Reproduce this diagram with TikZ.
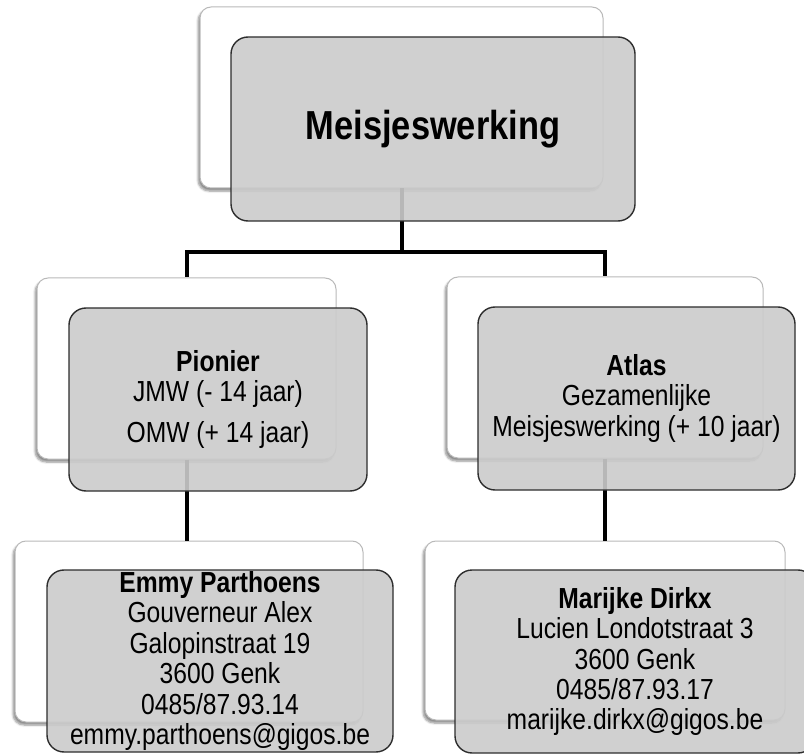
\documentclass[tikz,border=0pt]{standalone}
\usepackage{fontspec}
\setmainfont[FakeStretch=0.85]{Liberation Sans}
\usetikzlibrary{shadows.blur}
\definecolor{boxgray}{RGB}{203,203,203}
\definecolor{backline}{RGB}{185,185,185}
\definecolor{frontline}{RGB}{45,45,45}
\begin{document}
\begin{tikzpicture}[x=1pt,y=-1pt,
  backbox/.style={draw=backline, line width=1pt, fill=white, rounded corners=11pt,
    inner sep=0pt, blur shadow={shadow xshift=-2pt, shadow yshift=-3pt,
      shadow opacity=45, shadow blur steps=6}},
  frontbox/.style={draw=frontline, line width=1.4pt, fill=boxgray, fill opacity=0.9,
    text opacity=1, rounded corners=17pt, inner sep=0pt, align=center,
    font=\fontsize{29}{30.4}\selectfont},
  conn/.style={draw=black, line width=4pt},
]
\useasboundingbox (0,0) rectangle (804,754);
\begin{scope}
\clip (0,0) rectangle (804,754);

% back (white) boxes
\node[backbox, minimum width=403pt, minimum height=181pt] (tw) at (401.5,97.5) {};
\node[backbox, minimum width=299pt, minimum height=181pt] (lw) at (186.5,368.5) {};
\node[backbox, minimum width=316pt, minimum height=181pt] (rw) at (605,367.5) {};
\node[backbox, minimum width=348pt, minimum height=181pt] (blw) at (189,631.5) {};
\node[backbox, minimum width=360pt, minimum height=179pt] (brw) at (605,630.5) {};

% connectors
\coordinate (bus) at (401.5,252);
\draw[conn] (tw.south) -- (tw.south |- bus) -| (lw.north);
\draw[conn] (tw.south |- bus) -| (rw.north);
\draw[conn] (lw.south) -- (lw.south |- blw.north);
\draw[conn] (rw.south) -- (rw.south |- brw.north);

% front (grey) boxes with their texts
\node[frontbox, minimum width=404pt, minimum height=184pt] (tg) at (433,129)
  {\fontsize{40.5}{44}\selectfont\bfseries Meisjeswerking};
\node[frontbox, minimum width=298pt, minimum height=183pt] (lg) at (218,399.5)
  {\textbf{Pionier}\\JMW (- 14 jaar)\\[10pt]OMW (+ 14 jaar)};
\node[frontbox, minimum width=317pt, minimum height=183pt] (rg) at (636.5,398.5)
  {\textbf{Atlas}\\Gezamenlijke\\Meisjeswerking (+ 10 jaar)};
\node[frontbox, minimum width=346pt, minimum height=182pt] (blg) at (220,661)
  {\textbf{Emmy Parthoens}\\Gouverneur Alex\\Galopinstraat 19\\3600 Genk\\0485/87.93.14\\emmy.parthoens@gigos.be};
\node[frontbox, minimum width=360pt, minimum height=183pt] (brg) at (635,661.5)
  {\textbf{Marijke Dirkx}\\Lucien Londotstraat 3\\3600 Genk\\0485/87.93.17\\marijke.dirkx@gigos.be};
\end{scope}
\end{tikzpicture}
\end{document}
